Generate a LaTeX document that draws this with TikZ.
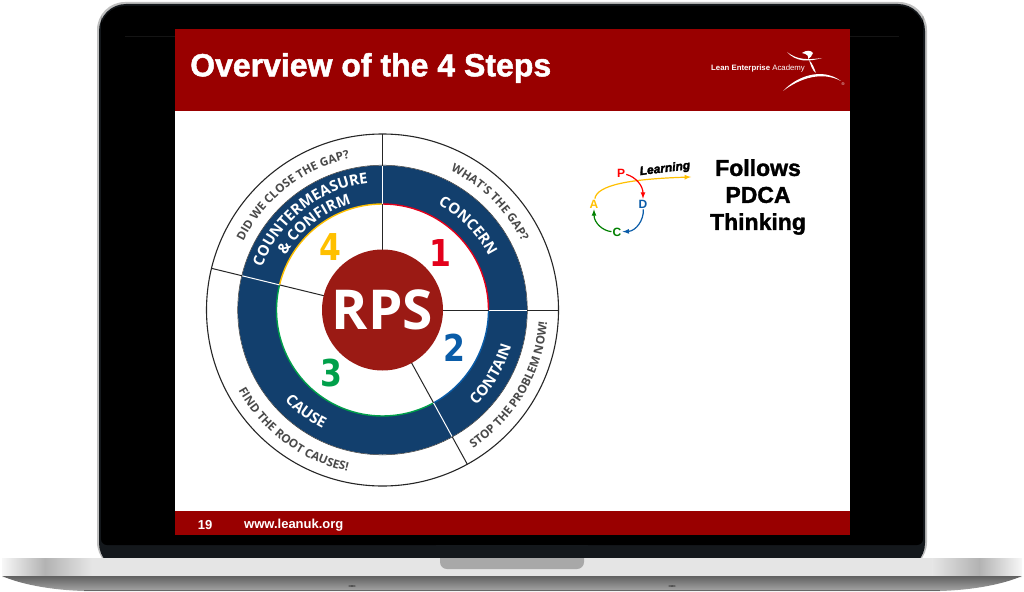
\documentclass[tikz,border=0pt]{standalone}
\usepackage{fontspec}
\setmainfont{Liberation Sans}
\newfontfamily\wheelfont{Open Sans}
\newfontfamily\digitfont{DejaVu Sans}
\newfontfamily\heavyfont[BoldFeatures={FakeBold=1.5},BoldItalicFeatures={FakeBold=2.5}]{Liberation Sans}
\usetikzlibrary{decorations.text}
\definecolor{slidered}{HTML}{990000}
\definecolor{ringblue}{HTML}{123F6D}
\definecolor{hubred}{HTML}{9B1A14}
\definecolor{stepred}{HTML}{E3001B}
\definecolor{stepblue}{HTML}{0A5CA8}
\definecolor{stepgreen}{HTML}{00A04A}
\definecolor{stepyellow}{HTML}{FFC000}
\definecolor{outertext}{HTML}{4A4A4A}
\definecolor{bezel}{HTML}{14181C}
\tikzset{
	ringtext/.style={decorate, decoration={text along path, text align=center, text color=white, text={|\wheelfont\bfseries\fontsize{15}{15}\selectfont|#1}}},
	outtext/.style={decorate, decoration={text along path, text align=center, text color=outertext, text={|\wheelfont\bfseries\fontsize{11.7}{12}\selectfont|#1}}},
	stepnum/.style={font=\digitfont\bfseries\fontsize{37}{37}\selectfont, xscale=0.85},
	pdca/.style={font=\bfseries\fontsize{12}{12}\selectfont, inner sep=1pt},
	loopline/.style={->, >=latex, line width=1.2pt},
}
\begin{document}
\begin{tikzpicture}[x=1pt,y=-1pt]
	\useasboundingbox (0,0) rectangle (1024,591);

	% laptop
	\fill[rounded corners=28pt, black!25] (97,2) rectangle (927,570);
	\fill[rounded corners=27pt, bezel] (99,4) rectangle (925,570);
	\fill[rounded corners=24pt, black] (101,6) -- (101,40) -- (923,40) -- (923,6) -- cycle;
	\fill[rounded corners=6pt, black] (101,20) rectangle (923,545);
	\draw[black!92, line width=0.4pt] (125,36) -- (899,36);
	\shade[left color=black!3, right color=black!30] (2,558) rectangle (45,577);
	\shade[left color=black!30, right color=black!10] (45,558) rectangle (92,577);
	\fill[black!10] (92,558) rectangle (932,577);
	\shade[left color=black!10, right color=black!30] (932,558) rectangle (979,577);
	\shade[left color=black!30, right color=black!3] (979,558) rectangle (1022,577);
	\shade[top color=black!62, bottom color=black!35]
		(2,576) .. controls (20,584) and (50,590) .. (84,591) -- (940,591) .. controls (974,590) and (1004,584) .. (1022,576) -- cycle;
	\draw[black!60, line width=0.7pt] (84,590.6) -- (940,590.6);
	\fill[black!70] (352,586) ellipse (4 and 0.8);
	\fill[black!70] (672,586) ellipse (4 and 0.8);
	\shade[left color=black!34, middle color=black!20, right color=black!34, rounded corners=7pt] (440,550) -- (440,569) -- (584,569) -- (584,550) -- cycle;
	\fill[bezel] (436,545) rectangle (588,558);

	% slide
	\fill[white] (175,29) rectangle (850,535);
	\fill[slidered] (175,29) rectangle (850,111);
	\fill[slidered] (175,511) rectangle (850,535);
	\node[anchor=west, text=white, inner sep=0pt, font=\heavyfont\bfseries\fontsize{32}{32}\selectfont] (title) at (190,68) {Overview of the 4 Steps};
	\node[anchor=west, text=white, inner sep=0pt, font=\fontsize{7.8}{8}\selectfont] (logotext) at (711,68) {\textbf{Lean Enterprise} Academy};
	\node[text=white, inner sep=0pt, font=\fontsize{4}{4}\selectfont] (logoreg) at (843,84) {\textregistered};
	\fill[white] (783,91) .. controls (797,76) and (822,67) .. (841,81) .. controls (822,71) and (800,78) .. cycle; % swoosh
	\fill[white] (787,52) .. controls (797,60) and (808,60) .. (822,58) .. controls (808,62) and (796,62) .. cycle; % arms
	\fill[white] (809,60) .. controls (813,64) and (814,68) .. (816,73) .. controls (812,70) and (811,66) .. cycle; % body
	\fill[white] (802,53) .. controls (806,50) and (811,50) .. (813,53) .. controls (811,56) and (811,58) .. (808,59) .. controls (809,56) and (807,54) .. cycle; % head
	\node[anchor=center, text=white, inner sep=0pt, font=\bfseries\fontsize{13}{14}\selectfont] (pagenum) at (205,525) {19};
	\node[anchor=west, text=white, inner sep=0pt, font=\bfseries\fontsize{13}{14}\selectfont] (website) at (244,525) {www.leanuk.org};

	% wheel
	\begin{scope}[shift={(382.5,310)}, y=1pt]
		\draw[line width=1.1pt, black!85] (0,0) circle (176);
		\fill[ringblue, even odd rule] (0,0) circle (144.5) (0,0) circle (106);
		\draw[line width=0.5pt, black!80] (0,0) circle (144.8);
		\draw[line width=1.4pt, stepred] (0:106) arc[start angle=0, end angle=90, radius=106];
		\draw[line width=1.4pt, stepyellow] (90:106) arc[start angle=90, end angle=166.3, radius=106];
		\draw[line width=1.4pt, stepgreen] (166.3:106) arc[start angle=166.3, end angle=298.8, radius=106];
		\draw[line width=1.4pt, stepblue] (298.8:106) arc[start angle=298.8, end angle=360, radius=106];
		\foreach \ang in {90,0,-61.2,166.3} {
			\draw[line width=1pt, black!85] (\ang:60) -- (\ang:106);
			\draw[line width=1pt, white] (\ang:106) -- (\ang:144.5);
			\draw[line width=1pt, black!85] (\ang:144.5) -- (\ang:176);
		}
		\node[circle, fill=hubred, minimum size=121pt, inner sep=0pt, text=white, font=\wheelfont\bfseries\fontsize{55}{55}\selectfont] (hub) at (0,0) {RPS};

		\path[ringtext={CONCERN}] (85:119) arc[start angle=85, end angle=4, radius=119];
		\path[ringtext={CONTAIN}] (-75:133.5) arc[start angle=-75, end angle=14, radius=133.5];
		\path[ringtext={CAUSE}] (188:133) arc[start angle=188, end angle=278, radius=133];
		\path[ringtext={COUNTERMEASURE}] (175:127.5) arc[start angle=175, end angle=82, radius=127.5];
		\path[ringtext={{\&} CONFIRM}] (175:111) arc[start angle=175, end angle=82, radius=111];

		\path[outtext={WHAT'S THE GAP?}] (85:155) arc[start angle=85, end angle=5, radius=155];
		\path[outtext={DID WE CLOSE THE GAP?}] (173:155) arc[start angle=173, end angle=83, radius=155];
		\path[outtext={FIND THE ROOT CAUSES!}] (188:165) arc[start angle=188, end angle=279, radius=165];
		\path[outtext={STOP THE PROBLEM NOW!}] (-75:165) arc[start angle=-75, end angle=14, radius=165];
	\end{scope}

	\node[stepnum, text=stepred] (one) at (440,253) {1};
	\node[stepnum, text=stepblue] (two) at (454,348) {2};
	\node[stepnum, text=stepgreen] (three) at (331,373) {3};
	\node[stepnum, text=stepyellow] (four) at (330,247) {4};

	% pdca loop
	\node[pdca, text=red] (P) at (621,173) {P};
	\node[pdca, text=stepblue] (D) at (643,204) {D};
	\node[pdca, text=green!50!black] (C) at (617,232) {C};
	\node[pdca, text=stepyellow] (A) at (594,204) {A};
	\coordinate (learnend) at (691,177);
	\draw[loopline, stepyellow] (A) .. controls (597,185) and (630,179) .. (learnend);
	\draw[loopline, red] (P) .. controls (636,177) and (643,186) .. (D);
	\draw[loopline, stepblue] (D) .. controls (644,220) and (636,231) .. (C);
	\draw[loopline, green!50!black] (C) .. controls (603,231) and (594,223) .. (A);
	\node[rotate=7, inner sep=0pt, font=\heavyfont\bfseries\itshape\fontsize{12}{12}\selectfont] (learning) at (665,169) {Learning};
	\node[align=center, inner sep=0pt, font=\heavyfont\bfseries\fontsize{23}{27}\selectfont] (follows) at (758,197) {Follows\\PDCA\\Thinking};
\end{tikzpicture}
\end{document}
